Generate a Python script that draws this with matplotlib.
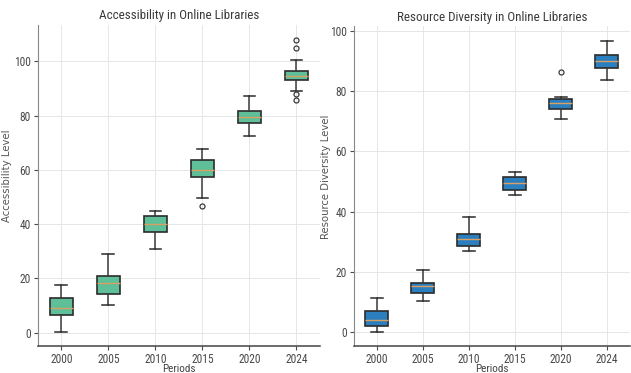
import matplotlib
matplotlib.use("Agg")
import matplotlib.pyplot as plt

periods = ["2000", "2005", "2010", "2015", "2020", "2024"]

# Accessibility level box statistics per period
acc_whislo = [0.4, 10.2, 31.0, 49.8, 72.3, 89.1]
acc_q1 = [6.5, 14.4, 37.1, 57.2, 77.3, 93.1]
acc_med = [9.0, 18.4, 40.0, 59.9, 79.4, 94.7]
acc_q3 = [12.6, 20.8, 42.9, 63.8, 81.5, 96.6]
acc_whishi = [17.7, 29.1, 45.0, 67.6, 87.2, 100.5]
acc_fliers = [[], [], [], [46.7], [], [108.0, 104.8, 87.8, 85.6]]

# Resource diversity level box statistics per period
div_whislo = [0.2, 10.2, 27.0, 45.4, 70.9, 83.7]
div_q1 = [2.2, 12.9, 28.7, 47.3, 74.0, 87.7]
div_med = [4.1, 15.3, 30.8, 49.5, 76.2, 89.9]
div_q3 = [6.9, 16.4, 32.6, 51.6, 77.4, 92.0]
div_whishi = [11.5, 20.5, 38.1, 53.1, 78.2, 96.8]
div_fliers = [[], [], [], [], [86.5], []]

narrow = ["Roboto Condensed", "Liberation Sans Narrow", "DejaVu Sans"]
NARROW_KW = dict(family=narrow, stretch="condensed")


def make_stats(lo, q1, med, q3, hi, fl):
    return [dict(whislo=a, q1=b, med=c, q3=d, whishi=e, fliers=f, label=p)
            for a, b, c, d, e, f, p in zip(lo, q1, med, q3, hi, fl, periods)]


def draw(ax, stats, color, title, ylabel, ylab_x):
    ax.bxp(stats, widths=0.5, patch_artist=True, showfliers=True,
           boxprops=dict(facecolor=color, edgecolor="#2b2b2b", linewidth=1.2),
           medianprops=dict(color="#d9a066", linewidth=1.0),
           whiskerprops=dict(color="#3a3a3a", linewidth=1.1),
           capprops=dict(color="#2b2b2b", linewidth=1.1),
           flierprops=dict(marker="o", markersize=3.6, markerfacecolor="none",
                           markeredgecolor="#3a3a3a", markeredgewidth=0.9))
    ax.set_title(title, fontsize=9.4, color="#3a3a3a", pad=4, **NARROW_KW)
    ax.set_xlabel("Periods", fontsize=8, color="#444444", **NARROW_KW)
    ax.xaxis.set_label_coords(0.5, -0.055)
    ax.set_ylabel(ylabel, family="DejaVu Sans", fontsize=7.3, color="#555555")
    ax.yaxis.set_label_coords(ylab_x, 0.53)
    ax.grid(True, color="#e6e6e6", linewidth=0.7)
    ax.set_axisbelow(True)
    for s in ("top", "right"):
        ax.spines[s].set_visible(False)
    ax.spines["left"].set_color("#888888")
    ax.spines["bottom"].set_color("#444444")
    ax.spines["bottom"].set_linewidth(1.1)
    ax.set_yticks([0, 20, 40, 60, 80, 100])
    ax.tick_params(labelsize=8.3, colors="#4a4a4a", length=3, width=0.8, pad=2)
    for lab in ax.get_xticklabels() + ax.get_yticklabels():
        lab.set_family(narrow)
        lab.set_stretch("condensed")


fig = plt.figure(figsize=(6.31, 3.73), dpi=100)
ax1 = fig.add_axes([0.060, 0.072, 0.447, 0.861])
ax2 = fig.add_axes([0.561, 0.072, 0.437, 0.858])

draw(ax1, make_stats(acc_whislo, acc_q1, acc_med, acc_q3, acc_whishi, acc_fliers),
     "#5fbf98", "Accessibility in Online Libraries", "Accessibility Level", -0.092)
draw(ax2, make_stats(div_whislo, div_q1, div_med, div_q3, div_whishi, div_fliers),
     "#2b7fbf", "Resource Diversity in Online Libraries", "Resource Diversity Level", -0.085)

fig.savefig("out.png", dpi=100)
